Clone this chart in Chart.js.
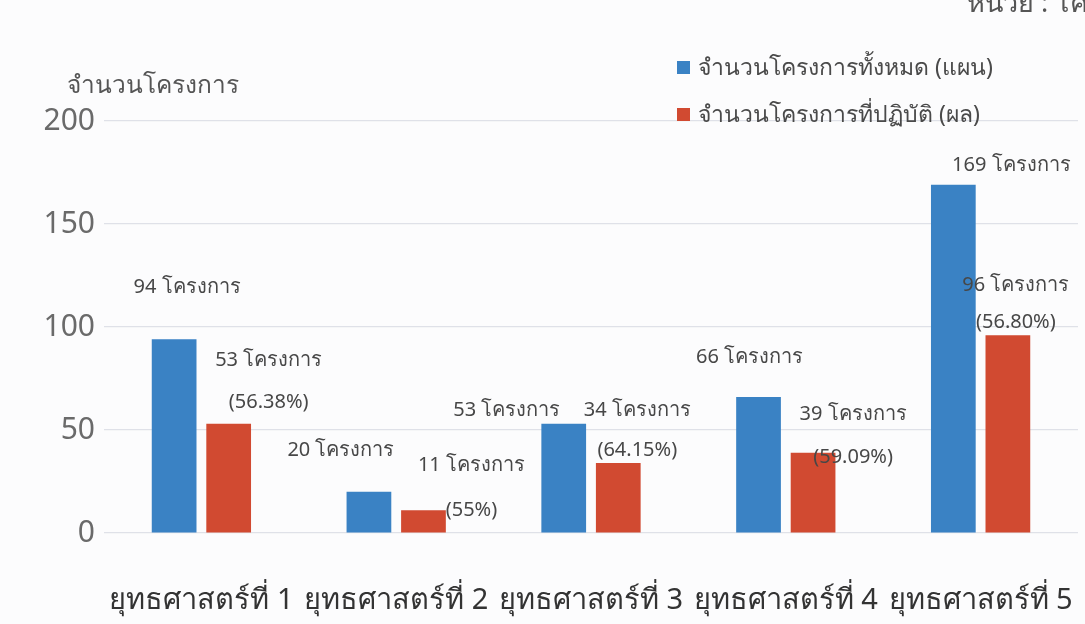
<!DOCTYPE html>
<html><head><meta charset="utf-8">
<script src="https://cdn.jsdelivr.net/npm/chart.js@4"></script>
<style>html,body{margin:0;padding:0;background:#fcfcfd}#wrap{width:1085px;height:624px}</style>
</head><body><div id="wrap"><canvas id="c" width="1085" height="624"></canvas></div>
<script>
const categories = ['ยุทธศาสตร์ที่ 1','ยุทธศาสตร์ที่ 2','ยุทธศาสตร์ที่ 3','ยุทธศาสตร์ที่ 4','ยุทธศาสตร์ที่ 5'];
const planValues = [94, 20, 53, 66, 169];
const actualValues = [53, 11, 34, 39, 96];
const seriesNames = ['จำนวนโครงการทั้งหมด (แผน)', 'จำนวนโครงการที่ปฏิบัติ (ผล)'];
const unitWord = 'โครงการ';
const yTicks = [0, 50, 100, 150, 200];

// label offsets (relative to bar top/centre)
const planLabelOffsets = [[13,-52],[-28,-42],[-57,-14],[-9,-40],[58,-20]];
const actualLabelOffsets = [[40,-64,-22],[48,-45,0],[19,-53,-13],[40,-38,5],[8,-50,-13]];

const BLUE = '#3a82c4', RED = '#d14a31';
const FONT = '"Noto Sans", "DejaVu Sans", sans-serif';

function pct(a, b){ let s = (a/b*100).toFixed(2); if (s.endsWith('.00')) s = s.slice(0,-3); return '(' + s + '%)'; }

const labelPlugin = {
  id: 'labels',
  afterDatasetsDraw(chart){
    const ctx = chart.ctx;
    ctx.save();
    ctx.fillStyle = '#474747';
    ctx.font = '20px ' + FONT;
    ctx.textAlign = 'center'; ctx.textBaseline = 'middle';
    const m0 = chart.getDatasetMeta(0).data, m1 = chart.getDatasetMeta(1).data;
    planValues.forEach((v,i)=>{
      const b = m0[i], o = planLabelOffsets[i];
      ctx.fillText(v + ' ' + unitWord, b.x + o[0], b.y + o[1]);
    });
    actualValues.forEach((v,i)=>{
      const b = m1[i], o = actualLabelOffsets[i];
      ctx.fillText(v + ' ' + unitWord, b.x + o[0], b.y + o[1]);
      ctx.fillText(pct(v, planValues[i]), b.x + o[0], b.y + o[2]);
    });
    // axis title
    ctx.fillStyle = '#555';
    ctx.font = '24.5px ' + FONT;
    ctx.textAlign = 'left';
    ctx.fillText('จำนวนโครงการ', 67, chart.chartArea.top - 35);
    // unit
    ctx.font = '27px ' + FONT;
    ctx.textBaseline = 'alphabetic';
    ctx.fillText('หน่วย : โครงการ', 967, 12);
    // legend
    ctx.textBaseline = 'middle';
    ctx.font = '23px ' + FONT;
    [BLUE, RED].forEach((c, k)=>{
      const y = 68 + k*47;
      ctx.fillStyle = c;
      ctx.fillRect(677, y - 7, 13, 13);
      ctx.fillStyle = '#4a4a4a';
      ctx.fillText(seriesNames[k], 698, y);
    });
    ctx.restore();
  }
};

new Chart(document.getElementById('c'), {
  type: 'bar',
  data: {
    labels: categories,
    datasets: [
      { label: seriesNames[0], data: planValues, backgroundColor: BLUE },
      { label: seriesNames[1], data: actualValues, backgroundColor: RED }
    ]
  },
  options: {
    responsive: false,
    animation: false,
    layout: { padding: { top: 121, right: 7, left: 0, bottom: 0 } },
    categoryPercentage: 0.56,
    barPercentage: 0.82,
    plugins: { legend: { display: false }, tooltip: { enabled: false } },
    scales: {
      x: {
        grid: { display: false },
        border: { display: false },
        ticks: { color: '#333', font: { size: 29, family: FONT }, maxRotation: 0, minRotation: 0, autoSkip: false, padding: 42 },
        afterFit(s){ s.height = 91; s.paddingLeft = 0; s.paddingRight = 0; }
      },
      y: {
        min: 0, max: 200,
        afterBuildTicks(s){ s.ticks = yTicks.map(v=>({value:v})); },
        grid: { color: '#dfe1e8', lineWidth: 1.2, drawTicks: false },
        border: { display: false },
        ticks: { color: '#6a6a6a', font: { size: 30, family: FONT }, padding: 9 },
        afterFit(s){ s.width = 104; }
      }
    }
  },
  plugins: [labelPlugin]
});
</script></body></html>
